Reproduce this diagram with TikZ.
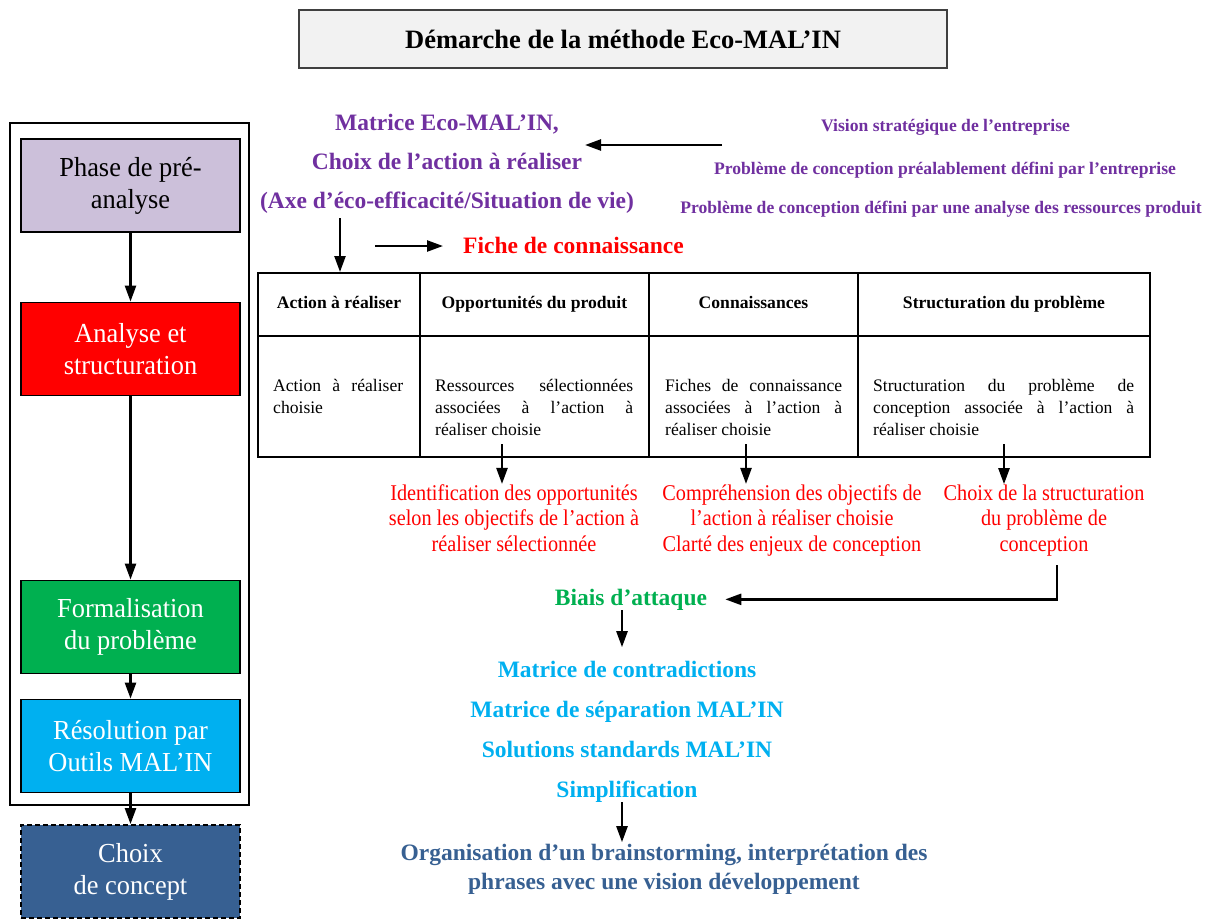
\documentclass[tikz,border=0pt]{standalone}
\usepackage{fontspec}
\setmainfont{Liberation Serif}
\newfontfamily\cond{Liberation Serif}[FakeStretch=0.9]
\newfontfamily\condL{Liberation Serif}[FakeStretch=0.96]
\usetikzlibrary{arrows.meta,calc}
\definecolor{lav}{HTML}{CCC0DA}
\definecolor{grn}{HTML}{00B050}
\definecolor{cyn}{HTML}{00B0F0}
\definecolor{dblue}{HTML}{376092}
\definecolor{purp}{HTML}{7030A0}
\definecolor{tfill}{HTML}{F2F2F2}
\definecolor{tborder}{HTML}{404040}
\hyphenpenalty=10000
\exhyphenpenalty=10000
\tolerance=9999
\begin{document}
\begin{tikzpicture}[x=1pt,y=-1pt,every node/.style={inner sep=0pt}]
\tikzset{
  arr/.style={line width=2.4pt,-{Triangle[length=16pt,width=11pt]}},
  phase/.style={draw=black,line width=1.8pt,minimum width=219pt,minimum height=93pt,align=center,font=\condL\fontsize{27.5}{32}\selectfont},
  hcell/.style={draw,line width=2pt,minimum height=63pt,font=\bfseries\fontsize{17.6}{21}\selectfont,text height=12pt,text depth=4pt},
  bcell/.style={draw,line width=2pt,minimum height=121pt},
  btext/.style={anchor=base west,align=justify,font=\fontsize{17.6}{22}\selectfont},
  redt/.style={anchor=base,align=center,text=red,font=\cond\fontsize{22.5}{25.5}\selectfont},
  purps/.style={anchor=base,text=purp,font=\bfseries\fontsize{17.6}{20}\selectfont},
  big/.style={anchor=base,align=center,font=\bfseries\fontsize{23.5}{28}\selectfont}
}
\fill[white] (0,0) rectangle (1213,922);
\useasboundingbox (0,0) rectangle (1213,922);

% title
\node[draw=tborder,fill=tfill,line width=1.6pt,minimum width=648pt,minimum height=58pt,
  font=\bfseries\fontsize{26.5}{30}\selectfont] (title) at (623,39) {Démarche de la méthode Eco-MAL’IN};

% left column
\node[draw,line width=1.2pt,minimum width=239pt,minimum height=682pt] (frame) at (129.5,464) {};
\node[phase,fill=lav,text=black] (pre) at (130.5,185.5) {Phase de pré-\\analyse};
\node[phase,fill=red,text=white] (ana) at (130.5,349) {Analyse et\\structuration};
\node[phase,fill=grn,text=white] (form) at (130.5,627) {Formalisation\\du problème};
\node[phase,fill=cyn,text=white] (res) at (130.5,746) {Résolution par\\Outils MAL’IN};
\node[phase,fill=dblue,text=white,dashed,dash pattern=on 5pt off 3pt] (choix) at (130.5,871.5) {Choix\\de concept};
\draw[arr] (pre) -- (ana);
\draw[arr] (ana) -- (form);
\draw[arr] (form) -- (res);
\draw[arr] (res) -- (choix);

% purple block (anchored on the baseline of its last line)
\node[big,text=purp,font=\bfseries\fontsize{23.5}{39}\selectfont] (mat) at (447,208)
  {Matrice Eco-MAL’IN,\\Choix de l’action à réaliser\\(Axe d’éco-efficacité/Situation de vie)};
\node[purps] (v1) at (945.5,131) {Vision stratégique de l’entreprise};
\node[purps] (v2) at (945,174) {Problème de conception préalablement défini par l’entreprise};
\node[purps] (v3) at (941,213) {Problème de conception défini par une analyse des ressources produit};
\coordinate (vs) at (722,145);
\coordinate (me) at (585,145);
\draw[arr] (vs) -- (me);

% fiche
\node[big,anchor=base west,text=red] (fiche) at (463,253) {Fiche de connaissance};
\coordinate (fs) at (375,246);
\draw[arr] (fs) -- ([xshift=-20pt]fiche.west |- fs);

% table
\node[hcell,minimum width=162pt] (h1) at (339,304.5) {Action à réaliser};
\node[hcell,minimum width=229pt] (h2) at (534.5,304.5) {Opportunités du produit};
\node[hcell,minimum width=209pt] (h3) at (753.5,304.5) {Connaissances};
\node[hcell,minimum width=292pt] (h4) at (1004,304.5) {Structuration du problème};
\node[bcell,minimum width=162pt] (b1) at (339,396.5) {};
\node[bcell,minimum width=229pt] (b2) at (534.5,396.5) {};
\node[bcell,minimum width=209pt] (b3) at (753.5,396.5) {};
\node[bcell,minimum width=292pt] (b4) at (1004,396.5) {};
\node[btext,text width=130pt] (t1) at (273,391) {Action à réaliser choisie};
\node[btext,text width=198pt] (t2) at (435,391) {Ressources sélectionnées associées à l’action à réaliser choisie};
\node[btext,text width=177pt] (t3) at (665,391) {Fiches de connaissance associées à l’action à réaliser choisie};
\node[btext,text width=261pt] (t4) at (873,391) {Structuration du problème de conception associée à l’action à réaliser choisie};
\coordinate (md) at (340,218);
\draw[arr] (md) -- (md |- h1.north);

% red outcomes (anchored on the baseline of the last line)
\node[redt] (r1) at (514,551) {Identification des opportunités\\selon les objectifs de l’action à\\réaliser sélectionnée};
\node[redt] (r2) at (792,551) {Compréhension des objectifs de\\l’action à réaliser choisie\\Clarté des enjeux de conception};
\node[redt] (r3) at (1044,551) {Choix de la structuration\\du problème de\\conception};
\coordinate (a2) at (502,444);
\coordinate (a3) at (746,444);
\coordinate (a4) at (1004,444);
\draw[arr] (a2) -- (a2 |- r1.north);
\draw[arr] (a3) -- (a3 |- r2.north);
\draw[arr] (a4) -- (a4 |- r3.north);

% biais
\node[big,text=grn] (biais) at (631,605) {Biais d’attaque};
\coordinate (c3) at (1057,565);
\draw[arr] (c3) |- ([xshift=18pt]biais.east);

% tools
\node[big,text=cyn,font=\bfseries\fontsize{23.5}{39.7}\selectfont] (tools) at (627,797)
  {Matrice de contradictions\\Matrice de séparation MAL’IN\\Solutions standards MAL’IN\\Simplification};
\draw[arr] ([xshift=-9pt]biais.south) -- ++(0,37);

% organisation
\node[big,text=dblue,font=\bfseries\fontsize{23.5}{29}\selectfont] (org) at (664,889)
  {Organisation d’un brainstorming, interprétation des\\phrases avec une vision développement};
\draw[arr] ([xshift=-5pt]tools.south) -- ++(0,40);
\end{tikzpicture}
\end{document}
